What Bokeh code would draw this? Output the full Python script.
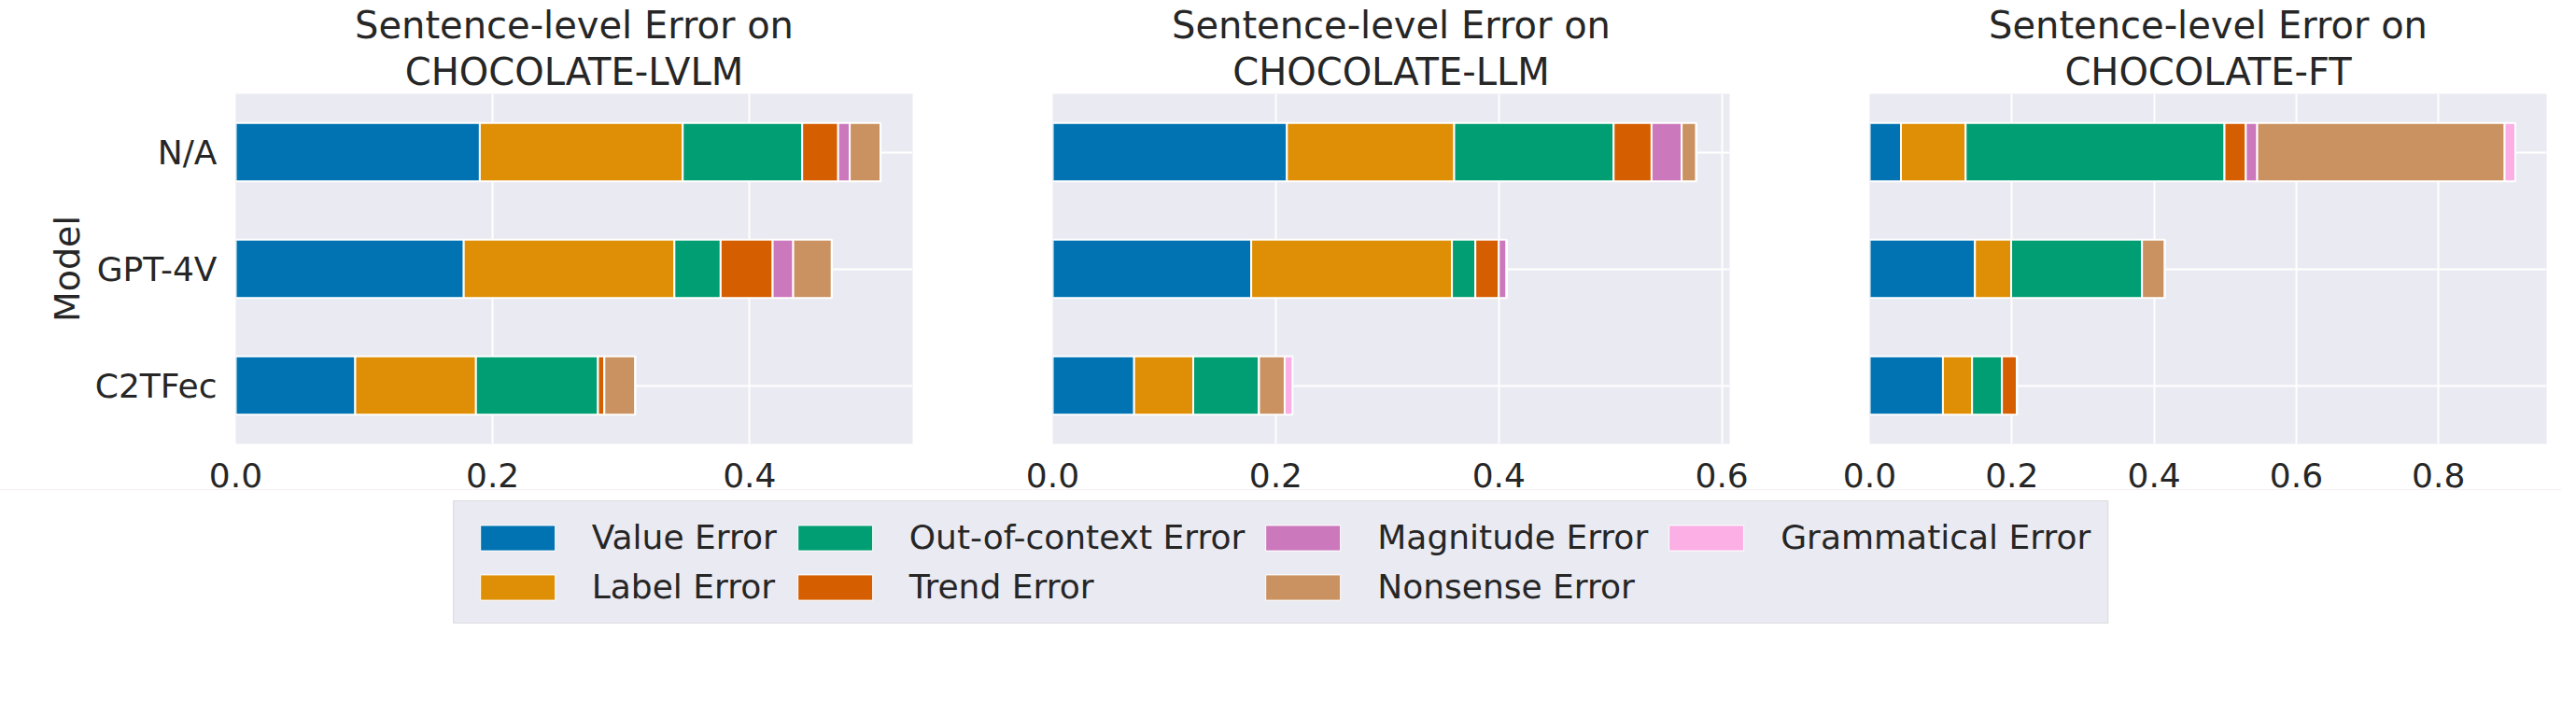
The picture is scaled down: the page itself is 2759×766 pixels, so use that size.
from bokeh.plotting import figure
from bokeh.models import ColumnDataSource, FactorRange, FixedTicker, Legend, LegendItem, Range1d, NumeralTickFormatter, Title
from bokeh.layouts import column, row
from bokeh.embed import file_html
from bokeh.resources import INLINE

models = ["C2TFec", "GPT-4V", "N/A"]
errors = ["Value Error", "Label Error", "Out-of-context Error", "Trend Error",
          "Magnitude Error", "Nonsense Error", "Grammatical Error"]
colors = ["#0173b2", "#de8f05", "#029e73", "#d55e00", "#cc78bc", "#ca9161", "#fbafe4"]

# values per error type, in order C2TFec, GPT-4V, N/A
lvlm = [[0.093, 0.1775, 0.190], [0.094, 0.164, 0.158], [0.095, 0.036, 0.093],
        [0.005, 0.0405, 0.028], [0.0, 0.016, 0.009], [0.024, 0.030, 0.024], [0.0, 0.0, 0.0]]
llm = [[0.073, 0.178, 0.210], [0.053, 0.180, 0.150], [0.059, 0.021, 0.143],
       [0.0, 0.021, 0.034], [0.0, 0.007, 0.027], [0.023, 0.0, 0.013], [0.007, 0.0, 0.0]]
ft = [[0.103, 0.148, 0.044], [0.041, 0.051, 0.091], [0.042, 0.184, 0.364],
      [0.021, 0.0, 0.030], [0.0, 0.0, 0.016], [0.0, 0.032, 0.348], [0.0, 0.0, 0.015]]

panels = [("CHOCOLATE-LVLM", lvlm, 0.527, [0, 0.2, 0.4]),
          ("CHOCOLATE-LLM", llm, 0.607, [0, 0.2, 0.4, 0.6]),
          ("CHOCOLATE-FT", ft, 0.952, [0, 0.2, 0.4, 0.6, 0.8])]

FONT = "DejaVu Sans"
TXT = "#262626"
figs = []
for i, (name, vals, xmax, ticks) in enumerate(panels):
    data = {"model": models}
    for e, v in zip(errors, vals):
        data[e] = v
    src = ColumnDataSource(data)
    p = figure(y_range=FactorRange(factors=models), x_range=Range1d(0, xmax),
               frame_width=725, frame_height=375, output_backend="svg",
               toolbar_location=None,
               min_border_left=252 if i == 0 else 75, min_border_right=75 if i < 2 else 10,
               min_border_top=5, min_border_bottom=5)
    p.hbar_stack(errors, y="model", height=0.5, source=src, color=colors,
                 line_color="white", line_width=2)
    for line in [name, "Sentence-level Error on"]:
        p.add_layout(Title(text=line, align="center", text_font=FONT, text_font_size="40px",
                           text_font_style="normal", text_color=TXT, standoff=2), "above")
    p.background_fill_color = "#eaeaf2"
    p.border_fill_color = "white"
    p.outline_line_color = None
    p.grid.grid_line_color = "white"
    p.grid.grid_line_width = 2
    p.xaxis.ticker = FixedTicker(ticks=ticks)
    p.xaxis.formatter = NumeralTickFormatter(format="0.0")
    for ax in p.axis:
        ax.axis_line_color = None
        ax.major_tick_line_color = None
        ax.minor_tick_line_color = None
        ax.major_label_text_font = FONT
        ax.major_label_text_font_size = "36px"
        ax.major_label_text_color = TXT
        ax.major_label_standoff = 14
    if i == 0:
        p.yaxis.axis_label = "Model"
        p.yaxis.axis_label_text_font = FONT
        p.yaxis.axis_label_text_font_size = "38px"
        p.yaxis.axis_label_text_font_style = "normal"
        p.yaxis.axis_label_text_color = TXT
    else:
        p.yaxis.visible = False
    figs.append(p)

lf = figure(width=2743, height=175, output_backend="svg", toolbar_location=None,
            x_range=Range1d(0, 1), y_range=Range1d(0, 1), min_border=0)
lf.outline_line_color = None
lf.axis.visible = False
lf.grid.visible = False
dummies = [lf.hbar(y=[5], right=[1], height=0.5, color=c, line_color="white") for c in colors]
legend = Legend(items=[LegendItem(label=e, renderers=[r]) for e, r in zip(errors, dummies)],
                nrows=2, orientation="vertical", location="top_center",
                label_text_font=FONT, label_text_font_size="36px", label_text_color=TXT,
                glyph_width=100, glyph_height=34, label_standoff=30, spacing=12,
                padding=18, margin=12,
                background_fill_color="#eaeaf2", background_fill_alpha=1.0,
                border_line_color="#cccccc", item_background_fill_alpha=0)
lf.add_layout(legend, "center")

layout = column(row(*figs), lf)
open("out.html", "w").write(file_html(layout, INLINE))
